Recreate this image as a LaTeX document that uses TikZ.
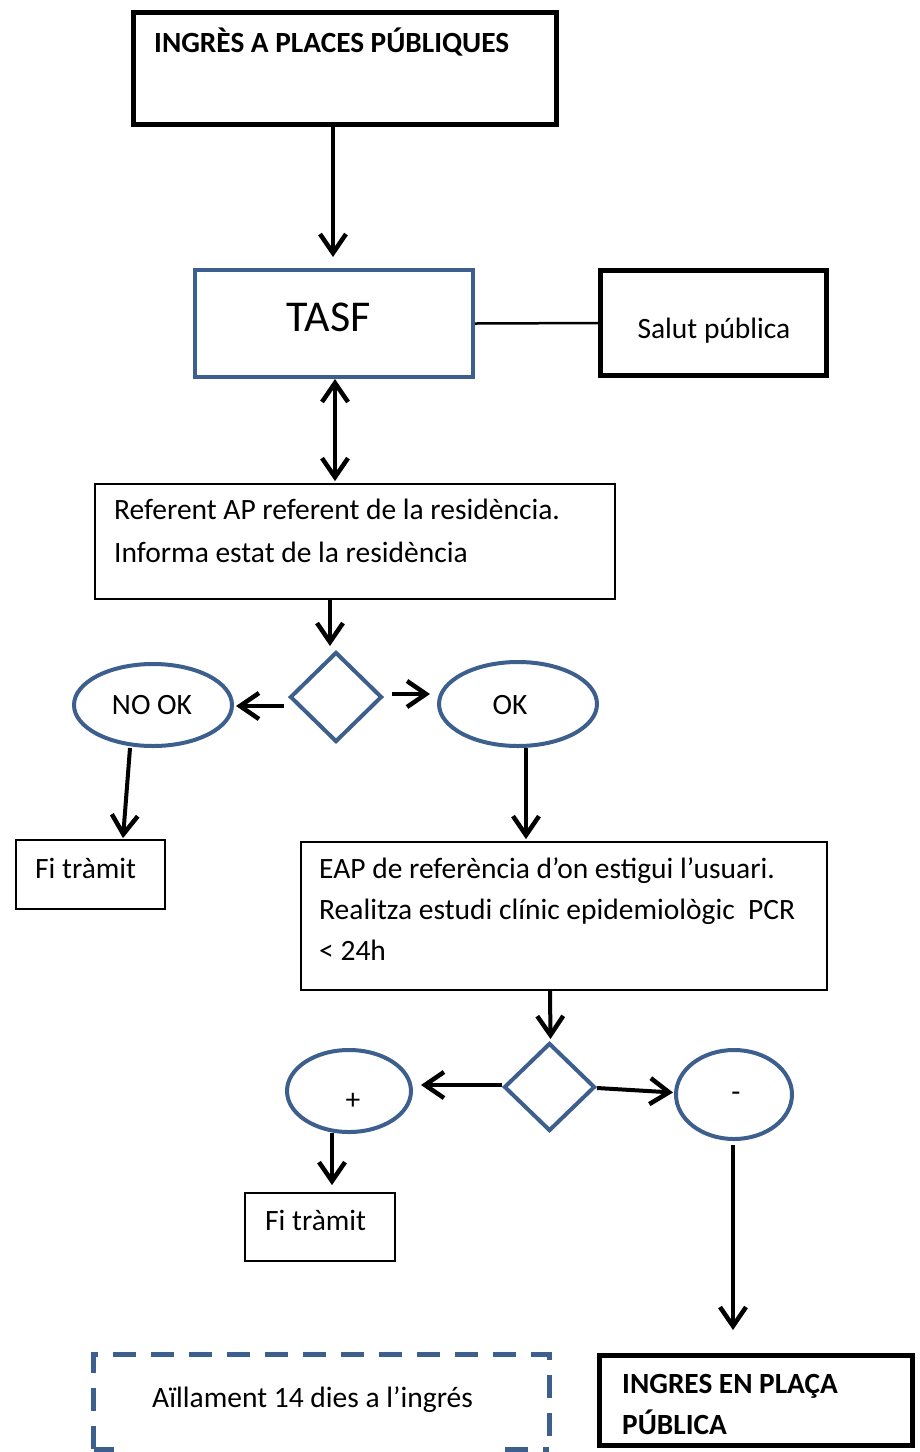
\documentclass[tikz,border=0pt]{standalone}
\usepackage{fontspec}
\setmainfont{Carlito}
\usetikzlibrary{arrows.meta,shapes.geometric,calc}
\definecolor{wblue}{HTML}{3C5F8E}
\tikzset{mybarb/.tip={Straight Barb[length=19pt,width=26pt,line width=4.5pt]}}
\begin{document}
\begin{tikzpicture}[x=1pt,y=-1pt,
  thickbox/.style={draw=black,line width=5pt,rectangle,inner sep=0pt},
  thinbox/.style={draw=black,line width=1.8pt,rectangle,inner sep=0pt},
  bluebox/.style={draw=wblue,line width=4pt,rectangle,inner sep=0pt},
  ell/.style={draw=wblue,line width=4pt,ellipse,inner sep=0pt},
  dia/.style={draw=wblue,line width=4pt,diamond,inner sep=0pt},
  hidbox/.style={rectangle,inner sep=0pt},
  dashline/.style={draw=wblue,line width=5pt,dash pattern=on 23pt off 15pt},
  txt/.style={inner sep=0pt,font=\fontsize{29.5}{35}\selectfont},
  btxt/.style={inner sep=0pt,font=\fontsize{29.3}{35}\selectfont\bfseries},
  arr/.style={line width=4pt,-mybarb},
  darr/.style={line width=4pt,mybarb-mybarb},
  link/.style={line width=2.5pt}]
\fill[white] (0,0) rectangle (919,1452);
\useasboundingbox (0,0) rectangle (919,1452);
% shapes
\node[thickbox,minimum width=423pt,minimum height=112pt] (b1) at (345,68.5) {};
\node[bluebox,minimum width=278pt,minimum height=107pt] (tasf) at (334,323.5) {};
\node[thickbox,minimum width=226pt,minimum height=105pt] (salut) at (713.5,323) {};
\node[thinbox,minimum width=520pt,minimum height=115pt] (ref) at (355,541.5) {};
\node[dia,minimum width=92pt,minimum height=90pt] (d1) at (336,697) {};
\node[ell,minimum width=158pt,minimum height=82pt] (nook) at (153,705) {};
\node[ell,minimum width=158pt,minimum height=84pt] (ok) at (518,704) {};
\node[thinbox,minimum width=149pt,minimum height=69pt] (fi1) at (90.5,874.5) {};
\node[thinbox,minimum width=526pt,minimum height=148pt] (eap) at (564,916) {};
\node[dia,minimum width=91pt,minimum height=88pt] (d2) at (549.5,1087) {};
\node[ell,minimum width=124pt,minimum height=82pt] (plus) at (349,1091) {};
\node[ell,minimum width=116pt,minimum height=89pt] (minus) at (734,1094.5) {};
\node[thinbox,minimum width=150pt,minimum height=68pt] (fi2) at (320,1227) {};
\node[hidbox,minimum width=455pt,minimum height=94pt] (aill) at (321.5,1402) {};
\node[thickbox,minimum width=313pt,minimum height=90pt] (ing) at (756,1400.5) {};
\draw[dashline] (aill.south west) -- (aill.north west) -- (aill.north east) -- (aill.south east);
\draw[dashline] (aill.south west) -- ([xshift=20pt]aill.south west);
\draw[dashline] ([xshift=-44pt]aill.south east) -- (aill.south east);
% texts
\node[btxt,anchor=base west] (t1) at (154,52) {INGRÈS A PLACES PÚBLIQUES};
\node[inner sep=0pt,font=\fontsize{44}{50}\selectfont,anchor=base] (t2) at (328.5,331) {TASF};
\node[txt,anchor=base] (t3) at (714,338) {Salut pública};
\node[txt,anchor=base west] (t4a) at (114,519) {Referent AP referent de la residència.};
\node[txt,anchor=base west] (t4b) at (114,562) {Informa estat de la residència};
\node[txt,anchor=base] (t5) at (152,714) {NO OK};
\node[txt,anchor=base] (t6) at (510,714) {OK};
\node[txt,anchor=base west] (t7) at (35,878) {Fi tràmit};
\node[txt,anchor=base west] (t8a) at (319,878) {EAP de referència d’on estigui l’usuari.};
\node[txt,anchor=base west] (t8b) at (319,919) {Realitza estudi clínic epidemiològic\ \ PCR};
\node[txt,anchor=base west] (t8c) at (319,960) {< 24h};
\node[txt,anchor=center] (t9) at (353,1101) {+};
\node[txt,anchor=center] (t10) at (736,1097) {-};
\node[txt,anchor=base west] (t11) at (265,1230) {Fi tràmit};
\node[txt,anchor=base west] (t12) at (152,1407) {Aïllament 14 dies a l’ingrés};
\node[btxt,anchor=base west] (t13a) at (622,1393) {INGRES EN PLAÇA};
\node[btxt,anchor=base west] (t13b) at (622,1434) {PÚBLICA};
% connectors
\draw[arr] ([xshift=-12pt]b1.south) -- ([xshift=-1pt,yshift=11pt]tasf.north);
\draw[link] (tasf.east) -- (salut.west);
\draw[darr] ([xshift=1pt]tasf.south) -- ([xshift=-20pt,yshift=2pt]ref.north);
\draw[arr] ([xshift=-25pt]ref.south) -- ([xshift=-6pt,yshift=4pt]d1.north);
\draw[arr] ([xshift=-4pt,yshift=-9pt]d1.west) -- ([xshift=2pt,yshift=-1pt]nook.east);
\draw[arr] ([xshift=8pt,yshift=3pt]d1.east) -- ([xshift=-7pt,yshift=10pt]ok.west);
\draw[arr] ([xshift=-23pt]nook.south) -- ([xshift=32.5pt,yshift=1pt]fi1.north);
\draw[arr] ([xshift=8pt]ok.south) -- ([xshift=-38pt,yshift=2pt]eap.north);
\draw[arr] ([xshift=-14pt]eap.south) -- ([xshift=1pt,yshift=2pt]d2.north);
\draw[arr] ([yshift=2pt]d2.west) -- ([xshift=8pt,yshift=6pt]plus.east);
\draw[arr] ([yshift=-1pt]d2.east) -- ([xshift=-1pt,yshift=2pt]minus.west);
\draw[arr] ([xshift=-17pt,yshift=1pt]plus.south) -- ([xshift=12pt,yshift=7pt]fi2.north);
\draw[arr] ([xshift=-1pt,yshift=-4pt]minus.south) -- ([xshift=-23pt,yshift=23pt]ing.north);
\end{tikzpicture}
\end{document}
